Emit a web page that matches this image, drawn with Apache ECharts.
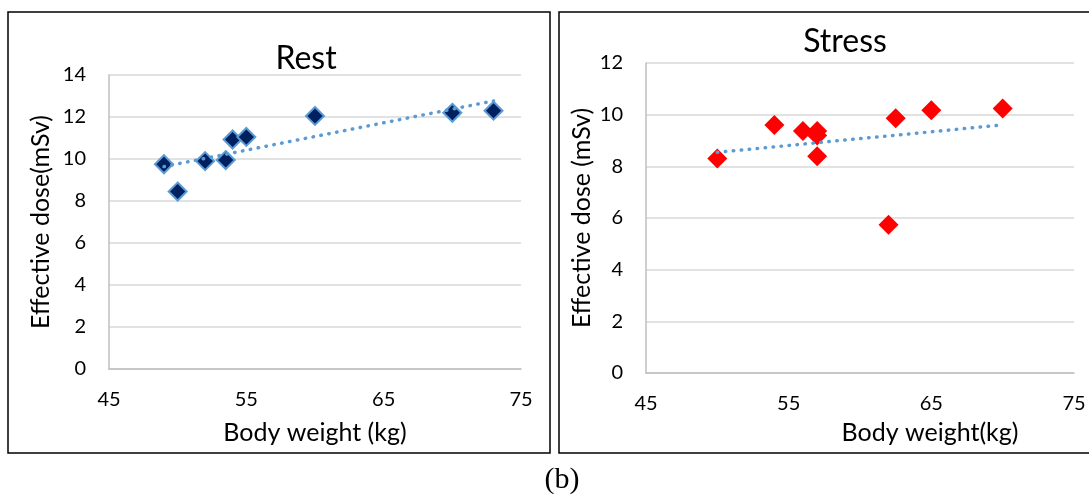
<!DOCTYPE html>
<html>
<head>
<meta charset="utf-8">
<script src="https://cdn.jsdelivr.net/npm/echarts@6/dist/echarts.min.js"></script>
<style>
html,body{margin:0;padding:0;background:#fff;}
#c{width:1089px;height:494px;}
</style>
</head>
<body>
<div id="c"></div>
<script>
// ---- data ----
const restWeight = [49, 50, 52, 53.5, 54, 55, 60, 70, 73];
const restDose   = [9.75, 8.45, 9.9, 9.95, 10.93, 11.05, 12.05, 12.2, 12.3];
const stressWeight = [50, 54, 56, 57, 57, 57, 62, 62.5, 65, 70];
const stressDose   = [8.3, 9.6, 9.37, 9.37, 9.19, 8.39, 5.74, 9.86, 10.17, 10.24];
const xAxisTicks = [45, 55, 65, 75];
const restYTicks = [0, 2, 4, 6, 8, 10, 12, 14];
const stressYTicks = [0, 2, 4, 6, 8, 10, 12];
const titles = ['Rest', 'Stress'];
const xNames = ['Body weight (kg)', 'Body weight(kg)'];
const yNames = ['Effective dose(mSv)', 'Effective dose (mSv)'];
const panelLabel = '(b)';

// linear least-squares trendline (as Excel's linear trendline)
function trend(xs, ys) {
  const n = xs.length;
  const mx = xs.reduce((a, b) => a + b, 0) / n;
  const my = ys.reduce((a, b) => a + b, 0) / n;
  let sxy = 0, sxx = 0;
  for (let i = 0; i < n; i++) { sxy += (xs[i] - mx) * (ys[i] - my); sxx += (xs[i] - mx) ** 2; }
  const b = sxy / sxx, a = my - b * mx;
  const x0 = Math.min(...xs), x1 = Math.max(...xs);
  return [[x0, a + b * x0], [x1, a + b * x1]];
}
const zip = (xs, ys) => xs.map((x, i) => [x, ys[i]]);

const FONT = 'Lato';
const gridColor = '#d9d9d9';
const axisColor = '#bfbfbf';
const NAME_SIZE = 25;
const TICK_SIZE = 20;

function xAxisCfg(gridIndex, name, nameGap, namePad) {
  return {
    type: 'value', gridIndex, min: xAxisTicks[0], max: xAxisTicks[xAxisTicks.length - 1],
    interval: xAxisTicks[1] - xAxisTicks[0],
    name, nameLocation: 'middle', nameGap,
    nameTextStyle: { fontFamily: FONT, fontSize: NAME_SIZE, color: '#000', padding: namePad },
    axisLine: { show: true, onZero: false, lineStyle: { color: axisColor, width: 1.5 } },
    axisTick: { show: false },
    splitLine: { show: false },
    axisLabel: { fontFamily: FONT, fontSize: TICK_SIZE, color: '#000', margin: 21 }
  };
}
function yAxisCfg(gridIndex, ticks, name, nameGap) {
  return {
    type: 'value', gridIndex, min: ticks[0], max: ticks[ticks.length - 1], interval: ticks[1] - ticks[0],
    name, nameLocation: 'middle', nameGap,
    nameTextStyle: { fontFamily: FONT, fontSize: NAME_SIZE, color: '#000' },
    axisLine: { show: true, lineStyle: { color: axisColor, width: 1.5 } },
    axisTick: { show: false },
    splitLine: { show: true, lineStyle: { color: gridColor, width: 1.5 } },
    axisLabel: { fontFamily: FONT, fontSize: TICK_SIZE, color: '#000', margin: 23 }
  };
}
const trendStyle = { color: '#5b9bd5', width: 3.5, type: [0.5, 7.5], cap: 'round' };

const chart = echarts.init(document.getElementById('c'), null, { renderer: 'canvas' });
chart.setOption({
  animation: false,
  backgroundColor: '#fff',
  title: [
    { text: titles[0], left: 301, top: 38, textAlign: 'center',
      textStyle: { fontFamily: FONT, fontSize: 32, fontWeight: 'normal', color: '#000' } },
    { text: titles[1], left: 840, top: 21, textAlign: 'center',
      textStyle: { fontFamily: FONT, fontSize: 32, fontWeight: 'normal', color: '#000' } }
  ],
  grid: [
    { left: 109, right: 568, top: 75, bottom: 125 },
    { left: 646, right: 15, top: 63, bottom: 121 }
  ],
  xAxis: [
    xAxisCfg(0, xNames[0], 51, [0, 0, 0, 0]),
    xAxisCfg(1, xNames[1], 47, [0, 0, 0, 140])
  ],
  yAxis: [
    yAxisCfg(0, restYTicks, yNames[0], 56),
    yAxisCfg(1, stressYTicks, yNames[1], 52)
  ],
  series: [
    { type: 'scatter', xAxisIndex: 0, yAxisIndex: 0, data: zip(restWeight, restDose),
      symbol: 'diamond', symbolSize: 18, z: 3,
      itemStyle: { color: '#002060', borderColor: '#5b9bd5', borderWidth: 2, opacity: 1 } },
    { type: 'line', xAxisIndex: 0, yAxisIndex: 0, data: trend(restWeight, restDose),
      showSymbol: false, symbol: 'none', z: 4, lineStyle: trendStyle, silent: true },
    { type: 'scatter', xAxisIndex: 1, yAxisIndex: 1, data: zip(stressWeight, stressDose),
      symbol: 'diamond', symbolSize: 20, z: 3,
      itemStyle: { color: '#ff0000', opacity: 1 } },
    { type: 'line', xAxisIndex: 1, yAxisIndex: 1, data: trend(stressWeight, stressDose),
      showSymbol: false, symbol: 'none', z: 4, lineStyle: trendStyle, silent: true }
  ],
  graphic: [
    { type: 'rect', shape: { x: 8, y: 12, width: 542, height: 441 },
      style: { fill: null, stroke: '#000', lineWidth: 1.5 }, z: 10 },
    { type: 'rect', shape: { x: 559, y: 12, width: 540, height: 441 },
      style: { fill: null, stroke: '#000', lineWidth: 1.5 }, z: 10 },
    { type: 'text', x: 562, y: 480,
      style: { text: panelLabel, font: '30px "Liberation Serif", "DejaVu Serif", serif',
               fill: '#000', textAlign: 'center', textVerticalAlign: 'middle' } }
  ]
});
</script>
</body>
</html>
